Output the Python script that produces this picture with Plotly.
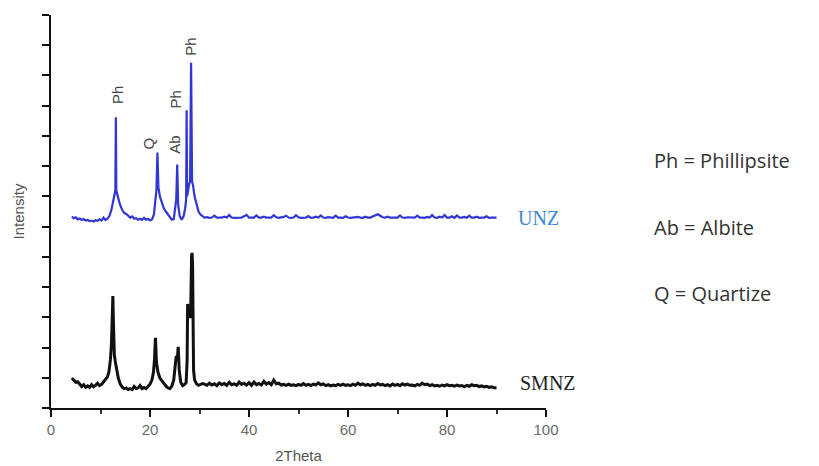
import plotly.graph_objects as go

# ---------------- data ----------------
# UNZ (blue) – peak region
two_theta_unz_head = [4.2, 4.6, 5.0, 5.4, 5.8, 6.2, 6.6, 7.0, 7.4, 7.8, 8.2, 8.6, 9.0, 9.4, 9.8,
                      10.2, 10.6, 11.0, 11.4, 11.8, 12.2, 12.5, 12.8, 13.0, 13.1, 13.2, 13.4, 13.7,
                      14.0, 14.4, 14.8, 15.2, 15.6, 16.0, 16.4, 16.8, 17.2, 17.6, 18.0, 18.4, 18.8,
                      19.2, 19.6, 20.0, 20.4, 20.8, 21.1, 21.3, 21.5, 21.7, 22.0, 22.4, 22.8, 23.2,
                      23.6, 24.0, 24.4, 24.8, 25.1, 25.3, 25.5, 25.7, 26.0, 26.4, 26.8, 27.1, 27.3,
                      27.4, 27.5, 27.7, 27.9, 28.1, 28.3, 28.5, 28.7, 29.0, 29.4, 29.8, 30.2, 30.6]
intensity_unz_head = [6.33, 6.28, 6.31, 6.24, 6.27, 6.22, 6.25, 6.20, 6.22, 6.18, 6.20, 6.17, 6.21,
                      6.19, 6.24, 6.20, 6.30, 6.22, 6.26, 6.35, 6.55, 6.85, 7.15, 7.20, 9.62, 7.20,
                      7.05, 6.85, 6.70, 6.55, 6.45, 6.42, 6.35, 6.30, 6.34, 6.26, 6.28, 6.23, 6.26,
                      6.22, 6.29, 6.23, 6.25, 6.21, 6.24, 6.40, 6.90, 7.20, 8.45, 7.30, 7.00, 6.80,
                      6.60, 6.50, 6.40, 6.30, 6.23, 6.25, 6.60, 6.90, 8.05, 6.70, 6.35, 6.23, 6.35,
                      6.60, 6.90, 9.85, 7.00, 7.30, 7.40, 7.50, 11.42, 7.50, 7.35, 7.00, 6.70, 6.50,
                      6.40, 6.35]

# SMNZ (black) – peak region
two_theta_smnz_head = [4.2, 4.6, 5.0, 5.4, 5.8, 6.2, 6.6, 7.0, 7.4, 7.8, 8.2, 8.6, 9.0, 9.4, 9.8,
                       10.2, 10.6, 11.0, 11.4, 11.7, 12.0, 12.2, 12.4, 12.5, 12.6, 12.8, 13.0, 13.3,
                       13.6, 14.0, 14.4, 14.8, 15.2, 15.6, 16.0, 16.4, 16.8, 17.2, 17.6, 18.0, 18.4,
                       18.8, 19.2, 19.6, 20.0, 20.4, 20.7, 20.9, 21.1, 21.3, 21.6, 22.0, 22.4, 22.8,
                       23.2, 23.6, 24.0, 24.4, 24.8, 25.1, 25.3, 25.5, 25.7, 25.9, 26.2, 26.6, 27.0,
                       27.3, 27.5, 27.6, 27.8, 28.0, 28.2, 28.4, 28.5, 28.6, 28.8, 29.0, 29.4, 29.8,
                       30.2, 30.6]
intensity_smnz_head = [0.99, 0.93, 0.85, 0.87, 0.78, 0.71, 0.77, 0.68, 0.73, 0.68, 0.77, 0.70, 0.75,
                       0.82, 0.74, 0.78, 0.86, 0.93, 1.03, 1.19, 1.59, 2.08, 3.57, 3.70, 2.91, 1.75,
                       1.52, 1.19, 0.99, 0.79, 0.69, 0.64, 0.66, 0.61, 0.64, 0.61, 0.71, 0.64, 0.66,
                       0.74, 0.64, 0.68, 0.64, 0.71, 0.79, 0.93, 1.19, 1.59, 2.32, 1.52, 1.19, 0.99,
                       0.89, 0.79, 0.73, 0.67, 0.64, 0.72, 0.93, 1.42, 1.72, 1.59, 2.02, 1.26, 0.86,
                       0.74, 0.78, 0.84, 1.59, 3.44, 3.31, 3.18, 2.98, 5.03, 5.13, 4.76, 1.26, 0.93,
                       0.80, 0.75, 0.77, 0.81]

# tail region 31..90 (step 0.5)
two_theta_tail = [31.0 + 0.5 * i for i in range(119)]
intensity_unz_tail = [6.30, 6.31, 6.29, 6.30, 6.36, 6.30, 6.29, 6.30, 6.33, 6.30, 6.38, 6.30, 6.29,
                      6.30, 6.31, 6.30, 6.34, 6.39, 6.30, 6.29, 6.30, 6.37, 6.30, 6.30, 6.33, 6.30,
                      6.29, 6.30, 6.38, 6.31, 6.29, 6.30, 6.32, 6.36, 6.30, 6.29, 6.30, 6.38, 6.31,
                      6.29, 6.30, 6.30, 6.35, 6.29, 6.30, 6.33, 6.30, 6.37, 6.30, 6.29, 6.31, 6.30,
                      6.29, 6.36, 6.30, 6.30, 6.29, 6.34, 6.30, 6.29, 6.30, 6.29, 6.32, 6.30, 6.29,
                      6.33, 6.30, 6.30, 6.33, 6.38, 6.41, 6.36, 6.31, 6.30, 6.33, 6.30, 6.29, 6.30,
                      6.30, 6.37, 6.30, 6.29, 6.31, 6.30, 6.29, 6.30, 6.36, 6.30, 6.30, 6.29, 6.32,
                      6.30, 6.38, 6.30, 6.29, 6.33, 6.30, 6.38, 6.30, 6.30, 6.34, 6.29, 6.37, 6.30,
                      6.30, 6.32, 6.29, 6.36, 6.30, 6.30, 6.33, 6.29, 6.30, 6.30, 6.34, 6.29, 6.30,
                      6.30, 6.30]
intensity_smnz_tail = [0.79, 0.75, 0.82, 0.76, 0.80, 0.74, 0.83, 0.77, 0.81, 0.75, 0.85, 0.77, 0.80,
                       0.75, 0.86, 0.78, 0.82, 0.76, 0.84, 0.75, 0.86, 0.77, 0.81, 0.76, 0.88, 0.79,
                       0.84, 0.77, 0.92, 0.80, 0.82, 0.76, 0.78, 0.75, 0.79, 0.75, 0.77, 0.74, 0.78,
                       0.75, 0.81, 0.75, 0.78, 0.74, 0.79, 0.76, 0.83, 0.77, 0.80, 0.74, 0.77, 0.73,
                       0.76, 0.74, 0.78, 0.75, 0.79, 0.75, 0.77, 0.74, 0.79, 0.75, 0.82, 0.77, 0.80,
                       0.75, 0.78, 0.74, 0.78, 0.75, 0.81, 0.76, 0.78, 0.74, 0.77, 0.73, 0.79, 0.75,
                       0.78, 0.74, 0.80, 0.76, 0.79, 0.75, 0.76, 0.73, 0.78, 0.75, 0.82, 0.77, 0.79,
                       0.74, 0.77, 0.73, 0.75, 0.72, 0.76, 0.73, 0.77, 0.74, 0.75, 0.72, 0.76, 0.73,
                       0.74, 0.71, 0.75, 0.72, 0.77, 0.74, 0.75, 0.71, 0.73, 0.70, 0.72, 0.68, 0.70,
                       0.67, 0.67]

# peak labels
peak_labels = ["Ph", "Q", "Ab", "Ph", "Ph"]
peak_label_x = [13.3, 19.7, 25.0, 25.2, 28.3]
peak_label_y = [10.35, 8.73, 8.70, 10.2, 11.95]

legend_lines = ["Ph = Phillipsite", "Ab = Albite", "Q = Quartize"]
series_names = ["UNZ", "SMNZ"]

# ---------------- figure ----------------
fig = go.Figure()
fig.add_trace(go.Scatter(x=two_theta_unz_head + two_theta_tail,
                         y=intensity_unz_head + intensity_unz_tail,
                         mode="lines", name=series_names[0],
                         line=dict(color="#3137d4", width=2.2)))
fig.add_trace(go.Scatter(x=two_theta_smnz_head + two_theta_tail,
                         y=intensity_smnz_head + intensity_smnz_tail,
                         mode="lines", name=series_names[1],
                         line=dict(color="#111111", width=3)))

annotations = []
for t, x, y in zip(peak_labels, peak_label_x, peak_label_y):
    annotations.append(dict(x=x, y=y, xref="x", yref="y", text=t, textangle=-90,
                            xanchor="center", yanchor="middle",
                            showarrow=False, font=dict(family="Liberation Sans", size=15, color="#444444")))

# series names at the end of each trace
annotations.append(dict(x=94.0, y=6.3, xref="x", yref="y", text=series_names[0],
                        xanchor="left", yanchor="middle",
                        showarrow=False, font=dict(family="Liberation Serif", size=20, color="#3f86d8")))
annotations.append(dict(x=94.3, y=0.82, xref="x", yref="y", text=series_names[1],
                        xanchor="left", yanchor="middle",
                        showarrow=False, font=dict(family="Liberation Serif", size=20, color="#222222")))

legend_y = [0.631, 0.459, 0.292]
for t, y in zip(legend_lines, legend_y):
    annotations.append(dict(x=1.214, y=y, xref="paper", yref="paper", text=t,
                            xanchor="left", yanchor="middle",
                            showarrow=False, font=dict(family="Open Sans", size=20, color="#333333")))

fig.update_layout(
    width=811, height=458,
    margin=dict(l=43, r=273, t=7, b=58),
    paper_bgcolor="white", plot_bgcolor="white",
    showlegend=False,
    annotations=annotations,
    xaxis=dict(range=[0, 100], dtick=20, tick0=0, showgrid=False, zeroline=False, automargin=False,
               showline=True, linecolor="#111111", linewidth=2,
               ticks="outside", ticklen=7, tickwidth=2, tickcolor="#111111",
               minor=dict(dtick=10, ticks="outside", ticklen=4, tickwidth=1.5, tickcolor="#333333"),
               tickfont=dict(family="Liberation Sans", size=15, color="#6a6a6a"),
               title=dict(text="2Theta", font=dict(family="Liberation Sans", size=15, color="#555555"),
                          standoff=13)),
    yaxis=dict(range=[0, 13], dtick=1, tick0=0, showgrid=False, zeroline=False, automargin=False,
               showline=True, linecolor="#111111", linewidth=2,
               ticks="outside", ticklen=7, tickwidth=2, tickcolor="#111111",
               showticklabels=False,
               title=dict(text="Intensity", font=dict(family="Liberation Sans", size=15, color="#555555"),
                          standoff=14)),
)

fig.write_html("out.html")
